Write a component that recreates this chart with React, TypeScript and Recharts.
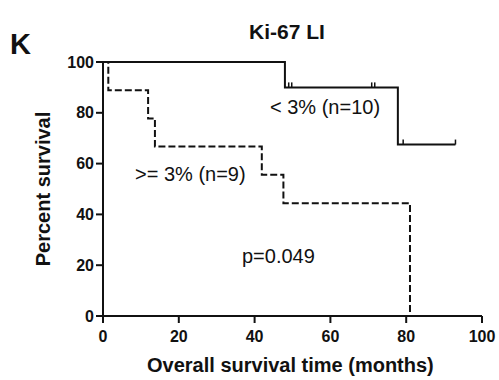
import React from "react";
import {
  ComposedChart,
  Line,
  Scatter,
  XAxis,
  YAxis,
} from "recharts";

// Kaplan-Meier step points (time in months, percent survival)
const lowGroup = [
  { t: 0, s: 100 },
  { t: 48, s: 90 },
  { t: 77.8, s: 67.5 },
  { t: 93, s: 67.5 },
];
const lowCensored = [
  { t: 49, s: 90 },
  { t: 49.8, s: 90 },
  { t: 70.9, s: 90 },
  { t: 71.7, s: 90 },
  { t: 79.2, s: 67.5 },
  { t: 93, s: 67.5 },
];
const highGroup = [
  { t: 0, s: 100 },
  { t: 1.4, s: 88.9 },
  { t: 11.9, s: 77.8 },
  { t: 13.7, s: 66.7 },
  { t: 41.9, s: 55.6 },
  { t: 47.6, s: 44.4 },
  { t: 81, s: 0 },
];
const xTicks = [0, 20, 40, 60, 80, 100];
const yTicks = [0, 20, 40, 60, 80, 100];

const title = "Ki-67 LI";
const panelLetter = "K";
const lowLabel = "< 3% (n=10)";
const highLabel = ">= 3% (n=9)";
const pLabel = "p=0.049";
const xLabel = "Overall survival time (months)";
const yLabel = "Percent survival";

const FONT = "'Liberation Sans', Arial, Helvetica, sans-serif";
const INK = "#111";

const CensorTick = (props: any) => {
  const { cx, cy } = props;
  if (cx == null || cy == null) return null;
  return <line x1={cx} x2={cx} y1={cy - 5} y2={cy} stroke={INK} strokeWidth={1.5} />;
};

const overlay = (
  text: string,
  style: React.CSSProperties
): React.ReactElement => (
  <div
    style={{
      position: "absolute",
      fontFamily: FONT,
      color: INK,
      whiteSpace: "nowrap",
      lineHeight: 1,
      ...style,
    }}
  >
    {text}
  </div>
);

export default function App() {
  return (
    <div
      style={{
        position: "absolute",
        left: 0,
        top: 0,
        width: 499,
        height: 380,
        background: "#fff",
        overflow: "hidden",
      }}
    >
      <ComposedChart
        width={499}
        height={380}
        margin={{ top: 62, right: 17, bottom: 24, left: 43 }}
      >
        <XAxis
          dataKey="t"
          type="number"
          domain={[0, 100]}
          ticks={xTicks}
          allowDataOverflow
          height={40}
          tickSize={7}
          tickMargin={8}
          axisLine={{ stroke: INK, strokeWidth: 2 }}
          tickLine={{ stroke: INK, strokeWidth: 2 }}
          tick={{ fill: INK, fontFamily: FONT, fontWeight: 700, fontSize: 16 }}
        />
        <YAxis
          type="number"
          domain={[0, 100]}
          ticks={yTicks}
          width={60}
          tickSize={7}
          tickMargin={2}
          axisLine={{ stroke: INK, strokeWidth: 2 }}
          tickLine={{ stroke: INK, strokeWidth: 2 }}
          tick={{ fill: INK, fontFamily: FONT, fontWeight: 700, fontSize: 16 }}
        />
        <Line
          data={lowGroup}
          dataKey="s"
          type="stepAfter"
          stroke={INK}
          strokeWidth={2}
          dot={false}
          activeDot={false}
          isAnimationActive={false}
        />
        <Line
          data={highGroup}
          dataKey="s"
          type="stepAfter"
          stroke={INK}
          strokeWidth={2}
          strokeDasharray="7 3"
          dot={false}
          activeDot={false}
          isAnimationActive={false}
        />
        <Scatter
          data={lowCensored}
          dataKey="s"
          shape={CensorTick}
          isAnimationActive={false}
        />
      </ComposedChart>
      {overlay(panelLetter, { left: 10, top: 30, fontSize: 29, fontWeight: 700 })}
      {overlay(title, { left: 249, top: 21, fontSize: 21, fontWeight: 700 })}
      {overlay(lowLabel, { left: 270, top: 97, fontSize: 20 })}
      {overlay(highLabel, { left: 135, top: 164, fontSize: 20 })}
      {overlay(pLabel, { left: 242, top: 246, fontSize: 20 })}
      {overlay(xLabel, { left: 147, top: 355, fontSize: 20, fontWeight: 700 })}
      <div
        style={{
          position: "absolute",
          left: 43,
          top: 189,
          transform: "translate(-50%, -50%) rotate(-90deg)",
          fontFamily: FONT,
          fontWeight: 700,
          fontSize: 20,
          color: INK,
          whiteSpace: "nowrap",
          lineHeight: 1,
        }}
      >
        {yLabel}
      </div>
    </div>
  );
}
